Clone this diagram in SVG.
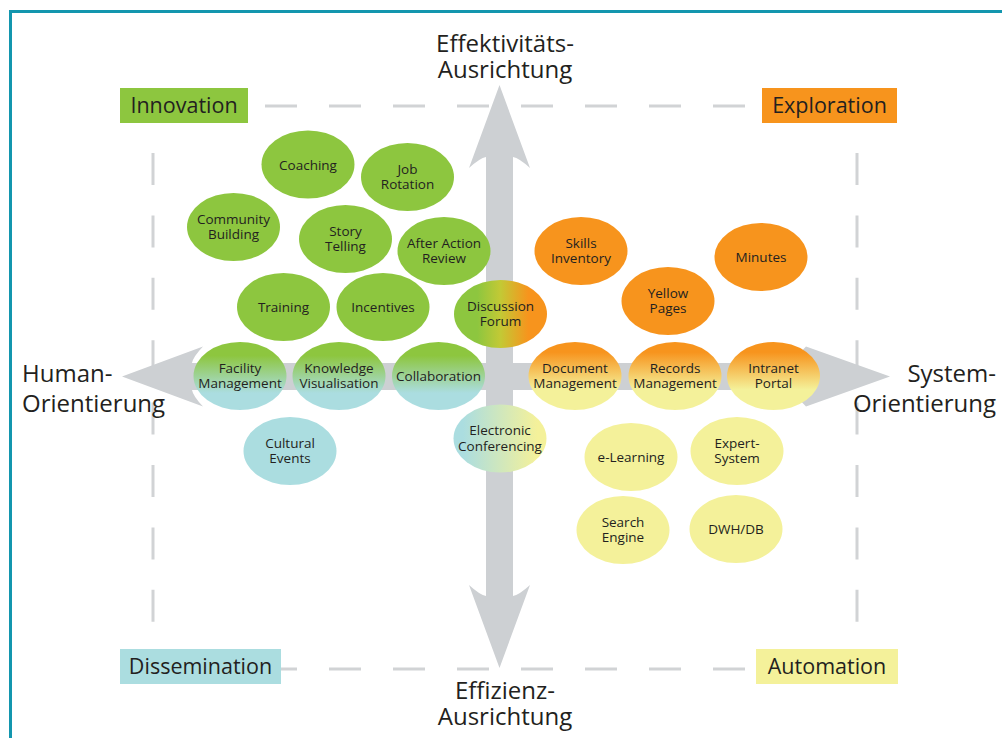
<svg xmlns="http://www.w3.org/2000/svg" width="1002" height="738" viewBox="0 0 1002 738">
<style>
  .t { font-family: "Open Sans", "Noto Sans", sans-serif; fill: #231f20; }
  .n { font-size: 13.5px; text-anchor: middle; }
  .lab { font-size: 21.5px; text-anchor: middle; }
  .ax { font-size: 24px; }
  .dash { stroke: #d1d3d5; stroke-width: 3; fill: none; }
  .arrow { fill: #cdd0d3; }
  .g { fill: #8dc63f; }
  .o { fill: #f7941d; }
  .y { fill: #f4f19a; }
  .b { fill: #abdde0; }
</style>
<defs>
  <linearGradient id="gb" x1="0" y1="0" x2="0" y2="1">
    <stop offset="0.2" stop-color="#8dc63f"/>
    <stop offset="0.75" stop-color="#abdde0"/>
  </linearGradient>
  <linearGradient id="oy" x1="0" y1="0" x2="0" y2="1">
    <stop offset="0.15" stop-color="#f7941d"/>
    <stop offset="0.7" stop-color="#f4f19a"/>
  </linearGradient>
  <linearGradient id="go" x1="0" y1="0" x2="1" y2="0">
    <stop offset="0.25" stop-color="#8dc63f"/>
    <stop offset="0.5" stop-color="#c3c935"/>
    <stop offset="0.8" stop-color="#f7941d"/>
  </linearGradient>
  <linearGradient id="by" x1="0" y1="0" x2="1" y2="0">
    <stop offset="0.1" stop-color="#abdde0"/>
    <stop offset="0.9" stop-color="#f4f19a"/>
  </linearGradient>
</defs>
<rect x="0" y="0" width="1002" height="738" fill="#ffffff"/>
<rect x="10.5" y="11.5" width="1000" height="740" fill="none" stroke="#1396ae" stroke-width="3"/>

<g id="frame-dashes">
  <line class="dash" x1="153" y1="106" x2="857" y2="106" stroke-dasharray="32 32" stroke-dashoffset="-48"/>
  <line class="dash" x1="153" y1="669" x2="857" y2="669" stroke-dasharray="32 32" stroke-dashoffset="-48"/>
  <line class="dash" x1="153" y1="153" x2="153" y2="640" stroke-dasharray="32 30.4"/>
  <line class="dash" x1="857" y1="153" x2="857" y2="640" stroke-dasharray="32 30.4"/>
</g>

<g id="connectors">
  <path class="arrow" d="M499.5,85 L530,168 Q519,158 513,157 L513,596 Q519,595 530,585 L499.5,668 L469,585 Q480,595 486,596 L486,157 Q480,158 469,168 Z"/>
  <path class="arrow" d="M122,376.5 L203,346.5 Q193,357 192,363 L796,363 Q795,357 806,346.5 L890,376.5 L806,406.5 Q795,396 796,390 L192,390 Q193,396 203,406.5 Z"/>
</g>

<g id="axis-labels">
  <text class="t ax" x="505" y="52" text-anchor="middle">Effektivitäts-</text>
  <text class="t ax" x="505" y="78" text-anchor="middle">Ausrichtung</text>
  <text class="t ax" x="505" y="699" text-anchor="middle">Effizienz-</text>
  <text class="t ax" x="505" y="725" text-anchor="middle">Ausrichtung</text>
  <text class="t ax" x="22" y="382">Human-</text>
  <text class="t ax" x="22" y="412">Orientierung</text>
  <text class="t ax" x="996" y="382" text-anchor="end">System-</text>
  <text class="t ax" x="996" y="412" text-anchor="end">Orientierung</text>
</g>

<g id="innovation"><rect class="g" x="120" y="88" width="128" height="35"/><text class="t lab" x="184" y="113">Innovation</text></g>
<g id="exploration"><rect class="o" x="762" y="88" width="135" height="35"/><text class="t lab" x="829.5" y="113">Exploration</text></g>
<g id="dissemination"><rect class="b" x="120" y="649" width="161" height="35"/><text class="t lab" x="200.5" y="674">Dissemination</text></g>
<g id="automation"><rect class="y" x="756" y="649" width="142" height="35"/><text class="t lab" x="827" y="674">Automation</text></g>

<g id="coaching"><ellipse class="g" cx="308" cy="164.5" rx="46.5" ry="34"/><text class="t n" x="308" y="169.5">Coaching</text></g>
<g id="job-rotation"><ellipse class="g" cx="407.5" cy="177" rx="46.5" ry="34"/><text class="t n" x="407.5" y="173.5">Job</text><text class="t n" x="407.5" y="189">Rotation</text></g>
<g id="community-building"><ellipse class="g" cx="233.5" cy="227" rx="46.5" ry="34"/><text class="t n" x="233.5" y="223.5">Community</text><text class="t n" x="233.5" y="239">Building</text></g>
<g id="story-telling"><ellipse class="g" cx="345.5" cy="239" rx="46.5" ry="34"/><text class="t n" x="345.5" y="235.5">Story</text><text class="t n" x="345.5" y="251">Telling</text></g>
<g id="after-action-review"><ellipse class="g" cx="444" cy="251" rx="46.5" ry="34"/><text class="t n" x="444" y="247.5">After Action</text><text class="t n" x="444" y="263">Review</text></g>
<g id="training"><ellipse class="g" cx="283.5" cy="307" rx="46.5" ry="34"/><text class="t n" x="283.5" y="312">Training</text></g>
<g id="incentives"><ellipse class="g" cx="383" cy="307" rx="46.5" ry="34"/><text class="t n" x="383" y="312">Incentives</text></g>
<g id="discussion-forum"><ellipse fill="url(#go)" cx="500.5" cy="314" rx="46.5" ry="34"/><text class="t n" x="500.5" y="310.5">Discussion</text><text class="t n" x="500.5" y="326">Forum</text></g>

<g id="facility-management"><ellipse fill="url(#gb)" cx="240" cy="376" rx="46.5" ry="34"/><text class="t n" x="240" y="372.5">Facility</text><text class="t n" x="240" y="388">Management</text></g>
<g id="knowledge-visualisation"><ellipse fill="url(#gb)" cx="339" cy="376" rx="46.5" ry="34"/><text class="t n" x="339" y="372.5">Knowledge</text><text class="t n" x="339" y="388">Visualisation</text></g>
<g id="collaboration"><ellipse fill="url(#gb)" cx="438.5" cy="376" rx="46.5" ry="34"/><text class="t n" x="438.5" y="380.5">Collaboration</text></g>
<g id="cultural-events"><ellipse class="b" cx="290" cy="451" rx="46.5" ry="34"/><text class="t n" x="290" y="447.5">Cultural</text><text class="t n" x="290" y="463">Events</text></g>
<g id="electronic-conferencing"><ellipse fill="url(#by)" cx="500" cy="438.5" rx="46.5" ry="34"/><text class="t n" x="500" y="435">Electronic</text><text class="t n" x="500" y="450.5">Conferencing</text></g>

<g id="skills-inventory"><ellipse class="o" cx="581" cy="251" rx="46.5" ry="34"/><text class="t n" x="581" y="247.5">Skills</text><text class="t n" x="581" y="263">Inventory</text></g>
<g id="minutes"><ellipse class="o" cx="761" cy="257" rx="46.5" ry="34"/><text class="t n" x="761" y="262">Minutes</text></g>
<g id="yellow-pages"><ellipse class="o" cx="668" cy="301" rx="46.5" ry="34"/><text class="t n" x="668" y="297.5">Yellow</text><text class="t n" x="668" y="313">Pages</text></g>
<g id="document-management"><ellipse fill="url(#oy)" cx="575" cy="376" rx="46.5" ry="34"/><text class="t n" x="575" y="372.5">Document</text><text class="t n" x="575" y="388">Management</text></g>
<g id="records-management"><ellipse fill="url(#oy)" cx="675" cy="376" rx="46.5" ry="34"/><text class="t n" x="675" y="372.5">Records</text><text class="t n" x="675" y="388">Management</text></g>
<g id="intranet-portal"><ellipse fill="url(#oy)" cx="773.5" cy="376" rx="46.5" ry="34"/><text class="t n" x="773.5" y="372.5">Intranet</text><text class="t n" x="773.5" y="388">Portal</text></g>
<g id="e-learning"><ellipse class="y" cx="631" cy="457" rx="46.5" ry="34"/><text class="t n" x="631" y="462">e-Learning</text></g>
<g id="expert-system"><ellipse class="y" cx="737" cy="451" rx="46.5" ry="34"/><text class="t n" x="737" y="447.5">Expert-</text><text class="t n" x="737" y="463">System</text></g>
<g id="search-engine"><ellipse class="y" cx="623" cy="530" rx="46.5" ry="34"/><text class="t n" x="623" y="526.5">Search</text><text class="t n" x="623" y="542">Engine</text></g>
<g id="dwh-db"><ellipse class="y" cx="736" cy="529" rx="46.5" ry="34"/><text class="t n" x="736" y="534">DWH/DB</text></g>
</svg>
